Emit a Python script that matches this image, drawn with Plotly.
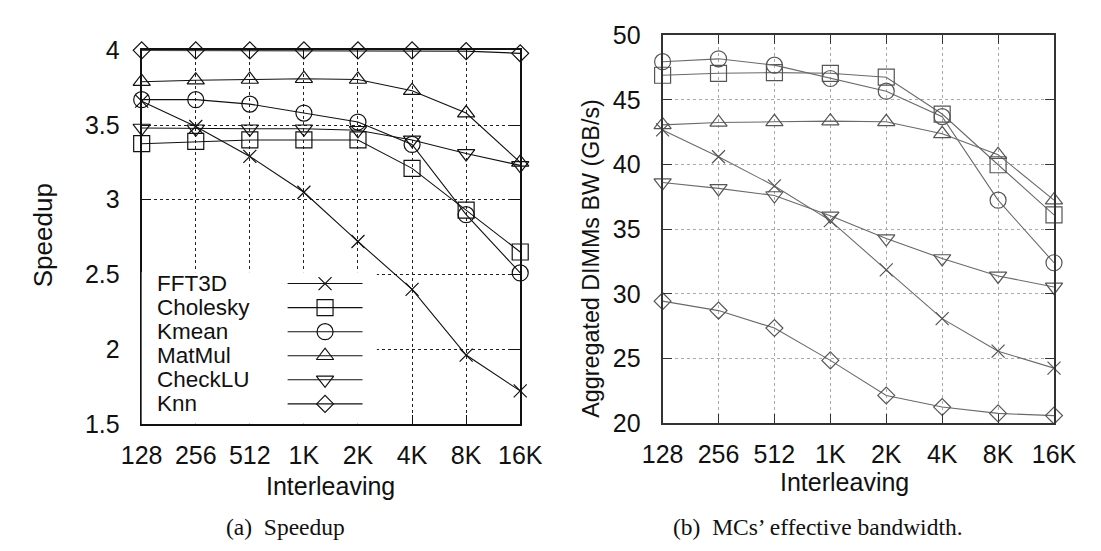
import plotly.graph_objects as go

W, H = 1101, 551

categories = ["128", "256", "512", "1K", "2K", "4K", "8K", "16K"]
series_names = ["FFT3D", "Cholesky", "Kmean", "MatMul", "CheckLU", "Knn"]

speedup_fft3d = [3.66, 3.49, 3.29, 3.05, 2.72, 2.40, 1.96, 1.72]
speedup_cholesky = [3.375, 3.39, 3.40, 3.40, 3.40, 3.21, 2.93, 2.65]
speedup_kmean = [3.67, 3.67, 3.64, 3.58, 3.52, 3.37, 2.90, 2.51]
speedup_matmul = [3.79, 3.80, 3.805, 3.81, 3.805, 3.73, 3.58, 3.25]
speedup_checklu = [3.48, 3.475, 3.475, 3.475, 3.465, 3.40, 3.31, 3.23]
speedup_knn = [4.0, 4.0, 4.0, 4.0, 4.0, 4.0, 3.995, 3.98]

bw_fft3d = [42.67, 40.6, 38.34, 35.66, 31.85, 28.08, 25.56, 24.25]
bw_cholesky = [46.9, 47.05, 47.1, 47.05, 46.75, 43.9, 39.98, 36.1]
bw_kmean = [47.95, 48.17, 47.68, 46.65, 45.67, 43.7, 37.24, 32.4]
bw_matmul = [43.06, 43.25, 43.3, 43.35, 43.3, 42.37, 40.76, 37.24]
bw_checklu = [38.6, 38.15, 37.6, 36.03, 34.27, 32.73, 31.38, 30.53]
bw_knn = [29.43, 28.7, 27.35, 24.85, 22.14, 21.24, 20.75, 20.58]

speedup_series = [speedup_fft3d, speedup_cholesky, speedup_kmean,
                  speedup_matmul, speedup_checklu, speedup_knn]
bw_series = [bw_fft3d, bw_cholesky, bw_kmean, bw_matmul, bw_checklu, bw_knn]

symbols = ["x-thin-open", "square-open", "circle-open", "triangle-up-open",
           "triangle-down-open", "diamond-open"]
sizes = [13, 16, 16, 15, 15, 13]

FONT = "Liberation Sans, Arial, sans-serif"
SERIF = "Liberation Serif, Times New Roman, serif"

fig = go.Figure()

# ---- left panel (speedup)
for name, ys, sym, sz in zip(series_names, speedup_series, symbols, sizes):
    fig.add_trace(go.Scatter(
        x=categories, y=ys, mode="lines+markers", name=name,
        xaxis="x", yaxis="y", cliponaxis=False, showlegend=False,
        line=dict(color="#111111", width=1.1),
        marker=dict(symbol=sym, size=sz, color="#111111",
                    line=dict(color="#111111", width=1.2)),
    ))

# ---- right panel (bandwidth)
for name, ys, sym, sz in zip(series_names, bw_series, symbols, sizes):
    fig.add_trace(go.Scatter(
        x=categories, y=ys, mode="lines+markers", name=name,
        xaxis="x2", yaxis="y2", cliponaxis=False, showlegend=False,
        line=dict(color="#6a6a6a", width=1.1),
        marker=dict(symbol=sym, size=sz, color="#555555",
                    line=dict(color="#555555", width=1.2)),
    ))

# ---- gnuplot-style legend (label on the left, sample on the right)
for i, (name, sym, sz) in enumerate(zip(series_names, symbols, sizes)):
    row = 12 + 25.35 * i
    fig.add_trace(go.Scatter(
        x=[152, 191, 230], y=[row] * 3, mode="lines",
        xaxis="x3", yaxis="y3", showlegend=False, hoverinfo="skip",
        line=dict(color="#111111", width=1.1),
    ))
    fig.add_trace(go.Scatter(
        x=[191], y=[row], mode="markers",
        xaxis="x3", yaxis="y3", showlegend=False, hoverinfo="skip",
        marker=dict(symbol=sym, size=sz, color="#111111",
                    line=dict(color="#111111", width=1.2)),
    ))
    fig.add_annotation(
        x=15, y=row, xref="x3", yref="y3", text=name, borderpad=0,
        showarrow=False, xanchor="left", yanchor="middle",
        font=dict(family=FONT, size=22.5, color="#111111"),
    )


def px(x):
    return x / W


def py(y):
    return 1 - y / H


axis_common = dict(
    type="category", range=[0, 7], showline=True, mirror="ticks",
    ticks="inside", ticklen=9, showgrid=True, griddash="dot",
    zeroline=False, tickfont=dict(family=FONT, size=25, color="#111111"),
)

fig.update_layout(
    width=W, height=H, margin=dict(l=0, r=0, t=0, b=0),
    paper_bgcolor="white", plot_bgcolor="white",
    xaxis=dict(**axis_common, domain=[px(125.7), px(520)], anchor="y",
               linecolor="#111111", linewidth=2, tickcolor="#111111",
               gridcolor="#222222", gridwidth=1, ticklabelstandoff=8),
    yaxis=dict(range=[1.5, 4], dtick=0.5, domain=[py(431.7), py(38.3)],
               anchor="x", showline=True, mirror="ticks", ticks="inside",
               ticklen=9, linecolor="#111111", linewidth=2, tickcolor="#111111",
               showgrid=True, griddash="dot", gridcolor="#222222", gridwidth=1,
               zeroline=False, tickformat="~g", ticklabelstandoff=15,
               tickfont=dict(family=FONT, size=25, color="#111111")),
    xaxis2=dict(**axis_common, domain=[px(668.3), px(1076)], anchor="y2",
                linecolor="#333333", linewidth=2, tickcolor="#333333",
                gridcolor="#aaaaaa", gridwidth=1, ticklabelstandoff=8),
    yaxis2=dict(range=[20, 50], dtick=5, domain=[py(431), py(22.3)],
                anchor="x2", showline=True, mirror="ticks", ticks="inside",
                ticklen=9, linecolor="#333333", linewidth=2, tickcolor="#333333",
                showgrid=True, griddash="dot", gridcolor="#aaaaaa", gridwidth=1,
                zeroline=False, ticklabelstandoff=15,
                tickfont=dict(family=FONT, size=25, color="#111111")),
    xaxis3=dict(domain=[px(125.7), px(370.7)], range=[0, 245], anchor="y3",
                visible=False, fixedrange=True),
    yaxis3=dict(domain=[py(431.7), py(272)], range=[159.7, 0], anchor="x3",
                visible=False, fixedrange=True),
    shapes=[dict(type="rect", xref="paper", yref="paper",
                 x0=px(127), x1=px(370.7), y0=py(430.5), y1=py(272),
                 fillcolor="white", line=dict(width=0), layer="between")],
)

annots = [
    dict(text="Speedup", x=px(23), y=py(233), textangle=-90, size=26, family=FONT),
    dict(text="Aggregated DIMMs BW (GB/s)", x=px(594), y=py(257.5), textangle=-90,
         size=23.3, family=FONT),
    dict(text="Interleaving", x=px(322.5), y=py(497), textangle=0, size=25, family=FONT),
    dict(text="Interleaving", x=px(858), y=py(493), textangle=0, size=25, family=FONT),
    dict(text="(a)  Speedup", x=px(275.6), y=py(540), textangle=0, size=23.5, family=SERIF),
    dict(text="(b)  MCs’ effective bandwidth.", x=px(830), y=py(540), textangle=0,
         size=23.5, family=SERIF),
]
for a in annots:
    fig.add_annotation(
        text=a["text"], x=a["x"], y=a["y"], xref="paper", yref="paper",
        textangle=a["textangle"], showarrow=False, xanchor="center",
        yanchor="middle", font=dict(family=a["family"], size=a["size"], color="#111111"),
    )

fig.write_html("out.html")
